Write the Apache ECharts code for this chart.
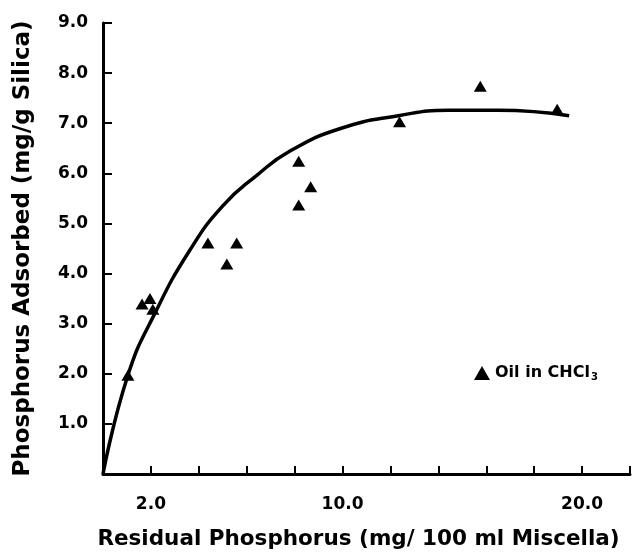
<!DOCTYPE html>
<html>
<head>
<meta charset="utf-8">
<script src="https://cdn.jsdelivr.net/npm/echarts@6/dist/echarts.min.js"></script>
<style>
  html, body { margin: 0; padding: 0; background: #fff; }
  #chart { width: 633px; height: 555px; }
</style>
</head>
<body>
<div id="chart"></div>
<script>
// measured points (residual P, adsorbed P)
const residualP = [1.04, 1.63, 1.96, 2.08, 4.38, 5.17, 5.58, 8.17, 8.17, 8.67, 12.38, 15.75, 18.96];
const adsorbedP = [1.97, 3.39, 3.50, 3.29, 4.61, 4.19, 4.61, 6.24, 5.37, 5.73, 7.03, 7.74, 7.28];

// fitted curve
const curveX = [0, 1.04, 2.17, 3.63, 5.0, 6.42, 7.79, 9.88, 12.33, 14.42, 16.5, 19.46];
const curveY = [0, 1.97, 3.21, 4.47, 5.35, 5.96, 6.44, 6.89, 7.15, 7.26, 7.26, 7.15];

const xLabels = ['2.0', '10.0', '20.0'];

const font = 'DejaVu Sans';
const ink = '#000';

const chart = echarts.init(document.getElementById('chart'));

chart.setOption({
  animation: false,
  backgroundColor: '#fff',
  grid: { left: 103, right: 2, top: 23, bottom: 75 },
  legend: {
    data: ['Oil in CHCl3'],
    left: 469,
    top: 360,
    icon: 'triangle',
    itemWidth: 16,
    itemHeight: 14,
    itemGap: 4,
    formatter: () => '{a|Oil in CHCl}{s|3}',
    textStyle: {
      rich: {
        a: { fontFamily: font, fontWeight: 'bold', fontSize: 16, color: ink },
        s: { fontFamily: font, fontWeight: 'bold', fontSize: 10, color: ink, padding: [9, 0, 0, 1] }
      }
    }
  },
  xAxis: {
    type: 'value',
    min: 0,
    max: 22,
    interval: 2,
    name: 'Residual Phosphorus (mg/ 100 ml Miscella)',
    nameLocation: 'middle',
    nameGap: 54,
    nameTextStyle: { fontFamily: font, fontWeight: 'bold', fontSize: 21.5, color: ink, padding: [0, 16, 0, 0] },
    splitLine: { show: false },
    axisLine: { lineStyle: { color: ink, width: 3 } },
    axisTick: { inside: true, length: 8, lineStyle: { color: ink, width: 2 } },
    axisLabel: {
      margin: 22,
      fontFamily: font, fontWeight: 'bold', fontSize: 17, color: ink,
      formatter: v => { const s = v.toFixed(1); return xLabels.includes(s) ? s : ''; }
    }
  },
  yAxis: {
    type: 'value',
    min: 0,
    max: 9,
    interval: 1,
    name: 'Phosphorus Adsorbed (mg/g Silica)',
    nameLocation: 'middle',
    nameGap: 68,
    nameTextStyle: { fontFamily: font, fontWeight: 'bold', fontSize: 23, color: ink },
    splitLine: { show: false },
    axisLine: { show: true, lineStyle: { color: ink, width: 3 } },
    axisTick: { show: true, inside: true, length: 9, lineStyle: { color: ink, width: 2 } },
    axisLabel: {
      margin: 15,
      fontFamily: font, fontWeight: 'bold', fontSize: 17, color: ink,
      formatter: v => (v === 0 ? '' : v.toFixed(1))
    }
  },
  series: [
    {
      type: 'line',
      data: curveX.map((x, i) => [x, curveY[i]]),
      smooth: 0.5,
      showSymbol: false,
      lineStyle: { color: ink, width: 3.5 },
      z: 2
    },
    {
      name: 'Oil in CHCl3',
      type: 'scatter',
      symbol: 'triangle',
      symbolSize: [13, 11],
      itemStyle: { color: ink, opacity: 1 },
      data: residualP.map((x, i) => [x, adsorbedP[i]]),
      z: 3
    }
  ]
});
</script>
</body>
</html>
